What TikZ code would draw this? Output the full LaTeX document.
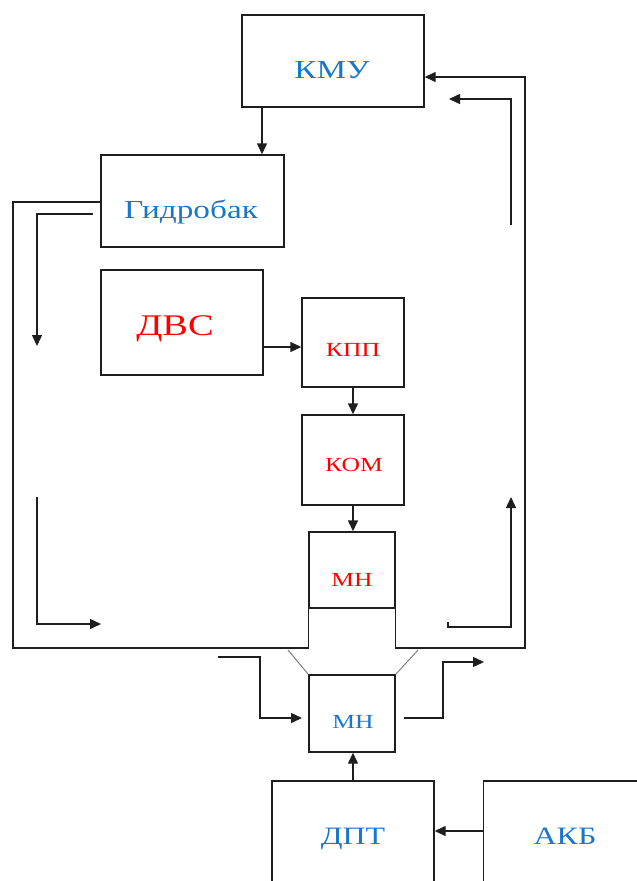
\documentclass[tikz,border=0pt]{standalone}
\usepackage{fontspec}
\setmainfont{Liberation Serif}
\usepackage{graphicx}
\usetikzlibrary{arrows.meta}
\definecolor{tblue}{RGB}{25,118,205}
\definecolor{tred}{RGB}{255,0,0}
\definecolor{ink}{RGB}{30,30,30}
\newcommand\wtxt[2]{\fontsize{#1}{#1}\selectfont\scalebox{1.28}[1]{#2}}
\tikzset{
  box/.style={draw=ink, line width=1.4pt, inner sep=0pt},
  ln/.style={draw=ink, line width=1.4pt},
  arr/.style={ln, -{Triangle[length=11pt,width=10pt]}},
  tx/.style={inner sep=0pt, anchor=base},
  bl/.style={tx, text=tblue},
  rd/.style={tx, text=tred},
}
\begin{document}
\begin{tikzpicture}[x=1pt,y=-1pt]
\useasboundingbox (0,0) rectangle (637,881);
\clip (0,0) rectangle (637,881);
% boxes
\node[box, minimum width=182pt, minimum height=92pt] (kmu) at (333,61) {};
\node[box, minimum width=183pt, minimum height=92pt] (gid) at (192.5,201) {};
\node[box, minimum width=162pt, minimum height=105pt] (dvs) at (182,322.5) {};
\node[box, minimum width=102pt, minimum height=89pt] (kpp) at (353,342.5) {};
\node[box, minimum width=102pt, minimum height=90pt] (kom) at (353,460) {};
\node[box, minimum width=86pt, minimum height=76pt] (mn1) at (352,570) {};
\node[box, minimum width=86pt, minimum height=77pt] (mn2) at (352,713.5) {};
\node[box, minimum width=162pt, minimum height=110pt] (dpt) at (353,836) {};
\node[box, minimum width=180pt, minimum height=110pt, anchor=west] (akb) at (483,836) {};
% texts
\node[bl] (kmut) at (332,78.5) {\wtxt{26}{КМУ}};
\node[bl] (gidt) at (191,218.5) {\wtxt{26}{Гидробак}};
\node[rd] (dvst) at (175,335) {\wtxt{30}{ДВС}};
\node[rd] (kppt) at (353,356.5) {\wtxt{20}{КПП}};
\node[rd] (komt) at (354,471.5) {\wtxt{20}{КОМ}};
\node[rd] (mn1t) at (352,586.5) {\wtxt{20}{МН}};
\node[bl] (mn2t) at (353,728.5) {\wtxt{20}{МН}};
\node[bl] (dptt) at (353,844) {\wtxt{25}{ДПТ}};
\node[bl] (akbt) at (565,844) {\wtxt{25}{АКБ}};
% helper coordinates
\coordinate (ya) at (0,347);
\coordinate (yb) at (0,831);
\coordinate (oL1) at (13,202);
\coordinate (oL2) at (13,648);
\coordinate (oR1) at (525,648);
\coordinate (oR2) at (525,77);
\coordinate (a1) at (511,225);
\coordinate (a2) at (511,99);
\coordinate (a3) at (449,99);
\coordinate (b1) at (93,214);
\coordinate (b2) at (37,214);
\coordinate (b3) at (37,346);
\coordinate (c1) at (37,497);
\coordinate (c2) at (37,624);
\coordinate (c3) at (101,624);
\coordinate (d0) at (448,622);
\coordinate (d1) at (448,627);
\coordinate (d2) at (511,627);
\coordinate (d3) at (511,497);
\coordinate (e1) at (218,657);
\coordinate (e2) at (260,657);
\coordinate (e3) at (260,718);
\coordinate (e4) at (302,718);
\coordinate (f1) at (404,718);
\coordinate (f2) at (443,718);
\coordinate (f3) at (443,662);
\coordinate (f4) at (484,662);
\coordinate (dL) at (288,650);
\coordinate (dR) at (418,650);
% connectors
\draw[arr] ([xshift=-71pt]kmu.south) -- ([xshift=-71pt]kmu.south |- gid.north);
\draw[arr] (dvs.east |- ya) -- (kpp.west |- ya);
\draw[arr] (kpp.south) -- (kom.north);
\draw[arr] (kom.south) -- (kom.south |- mn1.north);
\draw[arr] (dpt.north) -- (dpt.north |- mn2.south);
\draw[arr] (akb.west |- yb) -- (dpt.east |- yb);
\draw[ln] (gid.west |- oL1) -- (oL1) -- (oL2) -- (mn1.south west |- oL2) -- (mn1.south west);
\draw[arr] (mn1.south east) -- (mn1.south east |- oR1) -- (oR1) -- (oR2) -- (kmu.east |- oR2);
\draw[arr] (a1) -- (a2) -- (a3);
\draw[arr] (b1) -- (b2) -- (b3);
\draw[arr] (c1) -- (c2) -- (c3);
\draw[arr] (d0) -- (d1) -- (d2) -- (d3);
\draw[arr] (e1) -- (e2) -- (e3) -- (e4);
\draw[arr] (f1) -- (f2) -- (f3) -- (f4);
\draw[gray, line width=1pt] (dL) -- (mn2.north west);
\draw[gray, line width=1pt] (dR) -- (mn2.north east);
\end{tikzpicture}
\end{document}
